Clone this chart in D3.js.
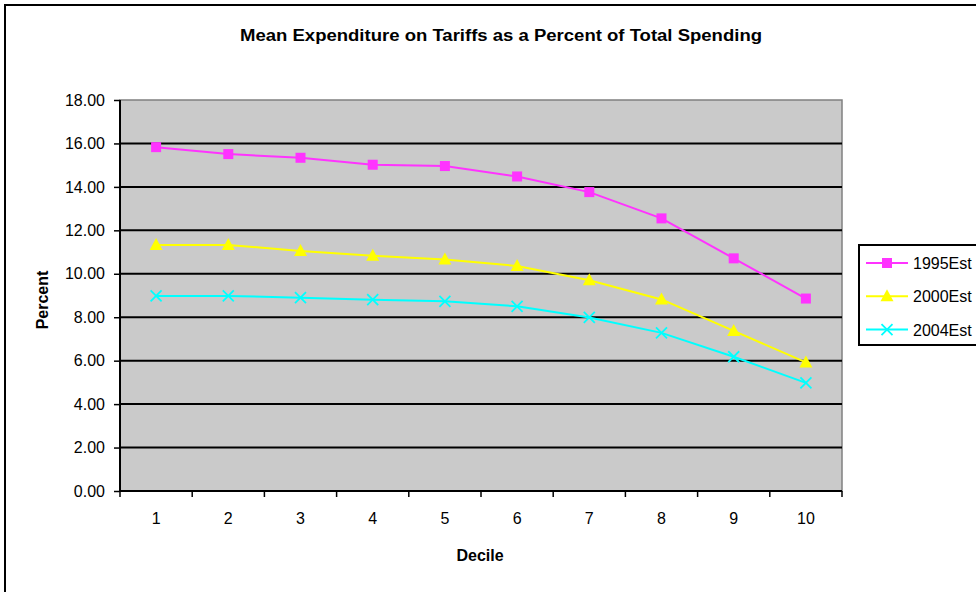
<!DOCTYPE html>
<html>
<head>
<meta charset="utf-8">
<script src="https://cdn.jsdelivr.net/npm/d3@7"></script>
<style>
body { margin: 0; background: #fff; }
text { font-family: "Liberation Sans", Arial, sans-serif; }
</style>
</head>
<body>
<div id="chart"></div>
<script>
var deciles = [1, 2, 3, 4, 5, 6, 7, 8, 9, 10];
var yTicks = [0, 2, 4, 6, 8, 10, 12, 14, 16, 18];
var seriesNames = ["1995Est", "2000Est", "2004Est"];
var est1995 = [15.83, 15.51, 15.34, 15.02, 14.96, 14.48, 13.76, 12.55, 10.71, 8.86];
var est2000 = [11.33, 11.33, 11.05, 10.83, 10.66, 10.36, 9.70, 8.82, 7.37, 5.92];
var est2004 = [8.98, 8.98, 8.90, 8.81, 8.73, 8.50, 7.99, 7.28, 6.18, 4.98];

var colors = ["#ff33ff", "#ffff00", "#00ffff"];
var shapes = ["square", "triangle", "cross"];
var allSeries = [est1995, est2000, est2004];

var W = 976, H = 592;
var margin = {top: 100, right: 134, bottom: 101, left: 120},
    width = W - margin.left - margin.right,
    height = H - margin.top - margin.bottom;

var svg = d3.select("#chart").append("svg")
    .attr("width", W)
    .attr("height", H);

// outer chart border
svg.append("rect")
    .attr("x", 5).attr("y", 5)
    .attr("width", W + 10).attr("height", H + 10)
    .attr("fill", "none")
    .attr("stroke", "#000")
    .attr("stroke-width", 2);

svg.append("text")
    .attr("x", 501)
    .attr("y", 41)
    .attr("text-anchor", "middle")
    .attr("font-size", "16px")
    .attr("font-weight", "bold")
    .attr("textLength", 522)
    .attr("lengthAdjust", "spacingAndGlyphs")
    .text("Mean Expenditure on Tariffs as a Percent of Total Spending");

var g = svg.append("g")
    .attr("transform", "translate(" + margin.left + "," + margin.top + ")");

var x = d3.scaleBand()
    .domain(deciles)
    .range([0, width])
    .padding(0);

var y = d3.scaleLinear()
    .domain([0, 18])
    .range([height, 0]);

// plot background
g.append("rect")
    .attr("width", width)
    .attr("height", height)
    .attr("fill", "#cacaca")
    .attr("stroke", "#808080")
    .attr("stroke-width", 1.5);

// gridlines
g.selectAll(".grid")
    .data(yTicks.filter(function(d) { return d > 0 && d < 18; }))
    .enter().append("line")
    .attr("class", "grid")
    .attr("x1", 0).attr("x2", width)
    .attr("y1", function(d) { return y(d); })
    .attr("y2", function(d) { return y(d); })
    .attr("stroke", "#000")
    .attr("stroke-width", 2);

// y axis
var yAxis = g.append("g")
    .call(d3.axisLeft(y).tickValues(yTicks).tickFormat(d3.format(".2f")).tickSize(6).tickPadding(9));
yAxis.select(".domain").attr("stroke-width", 2).attr("d", "M0,0V" + height);
yAxis.selectAll(".tick line").attr("stroke-width", 1.5);
yAxis.selectAll("text")
    .attr("font-size", "16px")
    .attr("font-family", "'Liberation Sans', Arial, sans-serif")
    .attr("fill", "#000");

// x axis: ticks at band edges
var xAxis = g.append("g")
    .attr("transform", "translate(0," + height + ")");
xAxis.append("line")
    .attr("x1", 0).attr("x2", width)
    .attr("stroke", "#000").attr("stroke-width", 2);
var edges = deciles.map(function(d) { return x(d); }).concat([width]);
xAxis.selectAll(".xt")
    .data(edges)
    .enter().append("line")
    .attr("x1", function(d) { return d; })
    .attr("x2", function(d) { return d; })
    .attr("y1", 0).attr("y2", 6)
    .attr("stroke", "#000").attr("stroke-width", 1.5);
xAxis.selectAll(".xl")
    .data(deciles)
    .enter().append("text")
    .attr("x", function(d) { return x(d) + x.bandwidth() / 2; })
    .attr("y", 33)
    .attr("text-anchor", "middle")
    .attr("font-size", "16px")
    .text(function(d) { return d; });

// axis titles
svg.append("text")
    .attr("x", 480)
    .attr("y", 561)
    .attr("text-anchor", "middle")
    .attr("font-size", "16px")
    .attr("font-weight", "bold")
    .text("Decile");

svg.append("text")
    .attr("transform", "translate(48,300) rotate(-90)")
    .attr("text-anchor", "middle")
    .attr("font-size", "16px")
    .attr("font-weight", "bold")
    .text("Percent");

function drawMarker(sel, shape, color) {
  if (shape === "square") {
    sel.append("rect")
      .attr("x", -5).attr("y", -5)
      .attr("width", 10).attr("height", 10)
      .attr("fill", color);
  } else if (shape === "triangle") {
    sel.append("path")
      .attr("d", "M0,-7L6.5,5L-6.5,5Z")
      .attr("fill", color);
  } else {
    sel.append("path")
      .attr("d", "M-5.5,-5.5L5.5,5.5M-5.5,5.5L5.5,-5.5")
      .attr("stroke", color)
      .attr("stroke-width", 1.8)
      .attr("fill", "none");
  }
}

var line = d3.line()
    .x(function(d, i) { return x(deciles[i]) + x.bandwidth() / 2; })
    .y(function(d) { return y(d); });

allSeries.forEach(function(vals, s) {
  g.append("path")
    .datum(vals)
    .attr("d", line)
    .attr("fill", "none")
    .attr("stroke", colors[s])
    .attr("stroke-width", 2);

  g.selectAll(".m" + s)
    .data(vals)
    .enter().append("g")
    .attr("transform", function(d, i) {
      return "translate(" + (x(deciles[i]) + x.bandwidth() / 2) + "," + y(d) + ")";
    })
    .each(function() { drawMarker(d3.select(this), shapes[s], colors[s]); });
});

// legend
var legend = svg.append("g")
    .attr("transform", "translate(859,245)");
legend.append("rect")
    .attr("width", 140).attr("height", 100)
    .attr("fill", "#fff")
    .attr("stroke", "#000")
    .attr("stroke-width", 2);

var items = legend.selectAll(".leg")
    .data(seriesNames)
    .enter().append("g")
    .attr("transform", function(d, i) { return "translate(0," + (18 + i * 33.3) + ")"; });
items.append("line")
    .attr("x1", 7).attr("x2", 49)
    .attr("stroke", function(d, i) { return colors[i]; })
    .attr("stroke-width", 2);
items.each(function(d, i) {
  var m = d3.select(this).append("g").attr("transform", "translate(28,0)");
  drawMarker(m, shapes[i], colors[i]);
});
items.append("text")
    .attr("x", 54)
    .attr("y", 6)
    .attr("font-size", "16px")
    .text(function(d) { return d; });
</script>
</body>
</html>
